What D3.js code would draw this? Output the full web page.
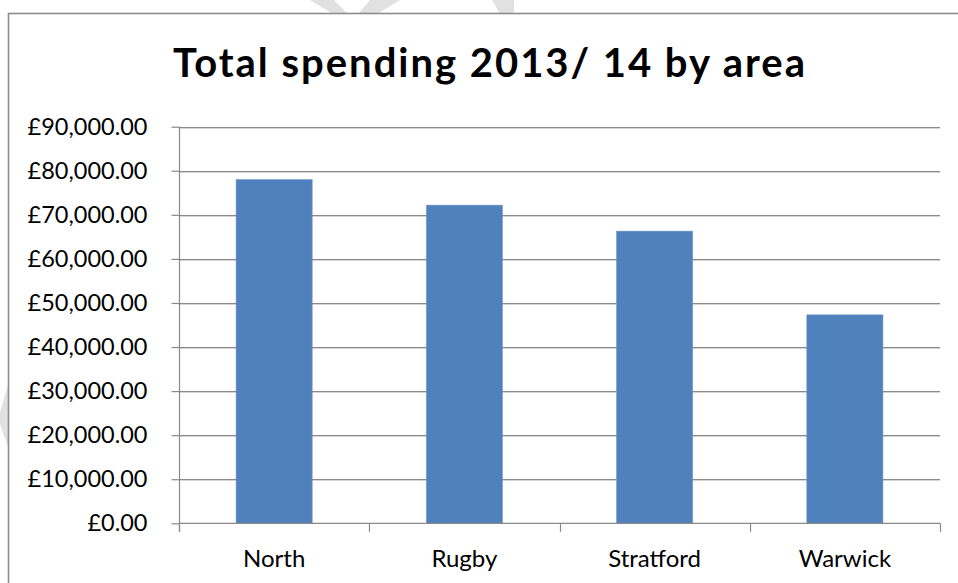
<!DOCTYPE html>
<html>
<head>
<meta charset="utf-8">
<script src="https://cdn.jsdelivr.net/npm/d3@7/dist/d3.min.js"></script>
<style>
  html, body { margin: 0; padding: 0; background: #ffffff; }
  svg { display: block; }
  text { font-family: Lato, "Open Sans", sans-serif; fill: #000; }
</style>
</head>
<body>
<svg id="chart" width="958" height="583"></svg>
<script>
// Spending totals per area, 2013/14 (GBP)
const areas = ["North", "Rugby", "Stratford", "Warwick"];
const spending = [78000, 72200, 66300, 47300];
const yTicks = [0, 10000, 20000, 30000, 40000, 50000, 60000, 70000, 80000, 90000];
const titleText = "Total spending 2013/ 14 by area";

const svg = d3.select("#chart");
const W = 958, H = 583;
const plot = { left: 179, right: 940, top: 126.7, bottom: 523.3 };

// faint page decoration behind the chart frame
const deco = [
  [[310, 0], [334, 0], [348, 14], [333, 14]],
  [[370, 0], [400, 0], [377, 14], [358, 14]],
  [[492, 0], [514, 0], [514, 14], [500, 14]],
  [[8, 385], [0, 412], [0, 424], [8, 447]]
];
svg.selectAll("polygon.deco").data(deco).join("polygon")
  .attr("class", "deco")
  .attr("points", d => d.map(p => p.join(",")).join(" "))
  .attr("fill", "#e1e1e1");

// chart frame
svg.append("rect")
  .attr("x", 8.5).attr("y", 13.5)
  .attr("width", W + 20).attr("height", H + 20)
  .attr("fill", "#ffffff")
  .attr("stroke", "#8c8c8c").attr("stroke-width", 1.6);

const x = d3.scaleBand().domain(areas).range([plot.left, plot.right]).paddingInner(0.6).paddingOuter(0.3);
const xb = d3.scaleBand().domain(areas).range([plot.left, plot.right]);
const y = d3.scaleLinear().domain([0, 90000]).range([plot.bottom, plot.top]);

// title
svg.append("text")
  .attr("x", 489).attr("y", 77)
  .attr("text-anchor", "middle")
  .attr("textLength", 632)
  .attr("lengthAdjust", "spacing")
  .style("font-weight", "bold")
  .style("font-size", "40px")
  .text(titleText);

// gridlines with a soft shadow under each
const grid = svg.append("g");
grid.selectAll("line.sh").data(yTicks.filter(t => t > 0)).join("line")
  .attr("x1", plot.left).attr("x2", plot.right)
  .attr("y1", d => Math.round(y(d)) + 1.5).attr("y2", d => Math.round(y(d)) + 1.5)
  .attr("stroke", "#d4d4d4").attr("stroke-width", 1);
grid.selectAll("line.g").data(yTicks.filter(t => t > 0)).join("line")
  .attr("x1", plot.left).attr("x2", plot.right)
  .attr("y1", d => Math.round(y(d)) + 0.5).attr("y2", d => Math.round(y(d)) + 0.5)
  .attr("stroke", "#898989").attr("stroke-width", 1.2);

// bars
svg.append("g").selectAll("rect").data(areas).join("rect")
  .attr("x", d => x(d))
  .attr("width", x.bandwidth())
  .attr("y", (d, i) => y(spending[i]))
  .attr("height", (d, i) => y(0) - y(spending[i]))
  .attr("fill", "#4f81bd")
  .attr("stroke", "#7097c9").attr("stroke-width", 0.6);

// y axis
const yAxis = d3.axisLeft(y).tickValues(yTicks).tickSize(8).tickPadding(24)
  .tickFormat(d => "£" + d3.format(",.2f")(d));
const gy = svg.append("g").attr("transform", `translate(${plot.left + 0.5},0)`).call(yAxis);
gy.select(".domain").remove();
gy.selectAll(".tick line").attr("stroke", "#898989").attr("stroke-width", 1.2);
gy.selectAll(".tick text").style("font-size", "23.5px").attr("fill", "#000");
gy.append("line").attr("x1", 0).attr("x2", 0)
  .attr("y1", plot.top).attr("y2", plot.bottom + 8.5)
  .attr("stroke", "#898989").attr("stroke-width", 1.2);

// x axis
const xAxis = d3.axisBottom(xb).tickSize(0);
const gx = svg.append("g").attr("transform", `translate(0,${plot.bottom})`).call(xAxis);
gx.select(".domain").remove();
gx.selectAll(".tick text")
  .attr("y", 43.4).attr("dy", 0)
  .style("font-size", "24px").attr("fill", "#000");
gx.append("line").attr("x1", plot.left).attr("x2", plot.right)
  .attr("y1", 0).attr("y2", 0)
  .attr("stroke", "#898989").attr("stroke-width", 1.2);
// category boundary ticks
const bounds = areas.map(a => xb(a)).concat([plot.right]);
gx.selectAll("line.bt").data(bounds).join("line")
  .attr("class", "bt")
  .attr("x1", d => Math.round(d) + 0.5).attr("x2", d => Math.round(d) + 0.5)
  .attr("y1", 0).attr("y2", 8.5)
  .attr("stroke", "#898989").attr("stroke-width", 1.2);
</script>
</body>
</html>
